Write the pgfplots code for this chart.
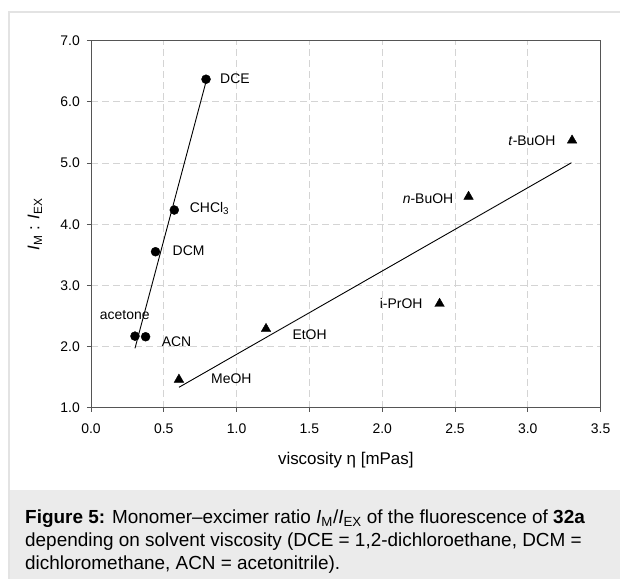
\documentclass[border=0pt]{standalone}
\usepackage{pgfplots}
\pgfplotsset{compat=1.18}
\usepackage{fontspec}
\setmainfont{Liberation Sans}
\definecolor{capbg}{HTML}{EBEBEB}
\definecolor{framec}{HTML}{E3E3E3}
\definecolor{gridc}{HTML}{D4D4D4}
\definecolor{axc}{HTML}{555555}
\begin{document}
\begin{tikzpicture}
\path[use as bounding box] (0,0) rectangle (620bp,579bp);
\fill[capbg] (9bp,0) rectangle (620bp,89bp);
\draw[framec, line width=1.2bp] (9bp,0) -- (9bp,567bp) -- (620bp,567bp);
\begin{scope}[every node/.style={anchor=base west, inner sep=0pt, font=\fontsize{19}{23}\selectfont}]
\node at (25bp,55.2bp) {\textbf{Figure 5:} Monomer–excimer ratio \textit{I}\textsubscript{M}/\textit{I}\textsubscript{EX} of the fluorescence of \textbf{32a}};
\node at (25bp,32.2bp) {depending on solvent viscosity (DCE = 1,2-dichloroethane, DCM =};
\node at (25bp,9.2bp) {dichloromethane, ACN = acetonitrile).};
\end{scope}
\begin{axis}[
  at={(91bp,171.3bp)}, anchor=south west,
  scale only axis, width=509.6bp, height=367bp,
  xmin=0, xmax=3.5, ymin=1, ymax=7,
  xtick={0,0.5,...,3.5}, ytick={1,2,...,7},
  tick pos=left, tick align=outside, major tick length=4bp,
  major tick style={axc, line width=1bp},
  axis line style={axc, line width=1bp},
  grid=major,
  major grid style={gridc, dash pattern=on 7bp off 4bp, line width=0.8bp},
  /pgf/number format/assume math mode=true,
  /pgf/number format/.cd, fixed, fixed zerofill, precision=1, /pgfplots/.cd,
  ticklabel style={font=\fontsize{14}{16}\selectfont},
  xticklabel style={inner sep=0pt, anchor=north, yshift=-12bp},
  yticklabel style={inner sep=0pt, anchor=east, xshift=-7bp},
  xlabel={viscosity η [mPas]},
  ylabel={\textit{I}\textsubscript{M} : \textit{I}\textsubscript{EX}},
  label style={font=\fontsize{17}{19}\selectfont},
  xlabel style={at={(axis description cs:0.5,-0.1425)}, anchor=center, inner sep=0pt},
  ylabel style={at={(axis description cs:-0.110,0.5)}, anchor=center, inner sep=0pt},
  clip=false,
]
\addplot[black, line width=0.9bp] coordinates {(0.302,1.97) (0.79,6.33)};
\addplot[black, line width=0.9bp] coordinates {(0.604,1.333) (3.30,5.005)};
\addplot[only marks, mark=*, mark size=4.5bp, black] coordinates {
 (0.79,6.37) (0.572,4.232) (0.443,3.55) (0.302,2.17) (0.375,2.16)};
\addplot[only marks, mark=triangle*, mark size=5.5bp, black] coordinates {
 (0.604,1.46) (1.202,2.29) (2.394,2.70) (2.593,4.45) (3.304,5.37)};
\begin{scope}[every node/.style={font=\fontsize{14}{16}\selectfont, inner sep=0pt, text depth=0pt}]
\node[anchor=west] at (axis cs:0.886,6.38) {DCE};
\node[anchor=west] at (axis cs:0.678,4.28) {CHCl\textsubscript{3}};
\node[anchor=west] at (axis cs:0.56,3.56) {DCM};
\node[anchor=west] at (axis cs:0.06,2.51) {acetone};
\node[anchor=west] at (axis cs:0.485,2.08) {ACN};
\node[anchor=west] at (axis cs:0.824,1.47) {MeOH};
\node[anchor=west] at (axis cs:1.383,2.20) {EtOH};
\node[anchor=east] at (axis cs:2.278,2.70) {i-PrOH};
\node[anchor=east] at (axis cs:2.489,4.41) {\textit{n}-BuOH};
\node[anchor=east] at (axis cs:3.191,5.365) {\textit{t}-BuOH};
\end{scope}
\end{axis}
\end{tikzpicture}
\end{document}
